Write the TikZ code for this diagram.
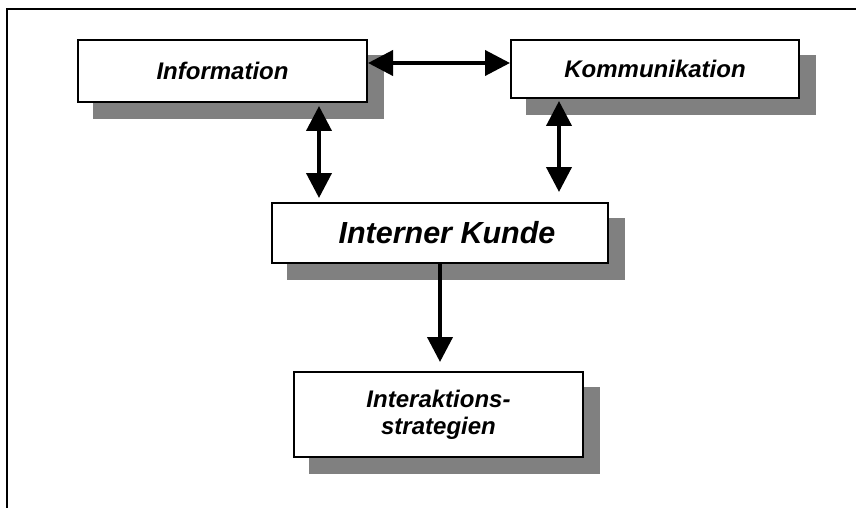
\documentclass[tikz,border=0pt]{standalone}
\usepackage{fontspec}
\setmainfont{Liberation Sans}
\usetikzlibrary{arrows.meta,backgrounds}
\definecolor{shadowgray}{HTML}{808080}
\begin{document}
\begin{tikzpicture}[x=1pt,y=-1pt,
  boxnode/.style={draw=black,line width=2pt,fill=white,inner sep=0pt,
    font=\bfseries\itshape\fontsize{24}{27}\selectfont,align=center},
  dblarrow/.style={line width=4pt,{Triangle[length=25pt,width=25pt]}-{Triangle[length=25pt,width=25pt]}},
  onearrow/.style={line width=4pt,-{Triangle[length=25pt,width=25pt]}},
  shadowfill/.style={fill=shadowgray}]
\useasboundingbox (0,0) rectangle (856,508);
% frame (top and left only)
\draw[line width=2.5pt] (7,508) -- (7,9) -- (856,9);

\node[boxnode,minimum width=289pt,minimum height=62pt] (info) at (222.5,71) {Information};
\node[boxnode,minimum width=288pt,minimum height=58pt] (komm) at (655,69) {Kommunikation};
\node[boxnode,minimum width=336pt,minimum height=60pt,font=\bfseries\itshape\fontsize{30.5}{34}\selectfont] (kunde) at (440,233) {\hspace*{14pt}Interner Kunde};
\node[boxnode,minimum width=289pt,minimum height=85pt] (strat) at (438.5,414.5) {Interaktions-\\strategien};

\begin{scope}[on background layer]
  \foreach \n in {info,komm,kunde,strat}{
    \fill[shadowfill] ([shift={(15.5pt,-16pt)}]\n.south west) rectangle ([shift={(15.5pt,-16pt)}]\n.north east);
  }
\end{scope}

\draw[dblarrow] ([yshift=8pt]info.east) -- ([yshift=6pt]komm.west);
\draw[dblarrow] ([xshift=96.5pt,yshift=-3pt]info.south) -- ([xshift=-121pt,yshift=4pt]kunde.north);
\draw[dblarrow] ([xshift=-96pt,yshift=-2pt]komm.south) -- ([xshift=119pt,yshift=10pt]kunde.north);
\draw[onearrow] (kunde.south) -- ([yshift=9pt]kunde.south |- strat.north);
\end{tikzpicture}
\end{document}
